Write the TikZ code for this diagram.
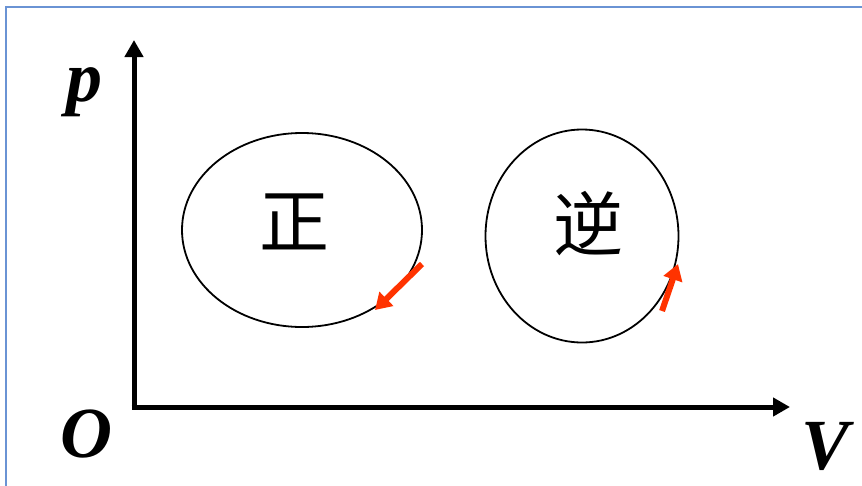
\documentclass[tikz,border=0pt]{standalone}
\usepackage{fontspec}
\setmainfont{Liberation Serif}
\newfontfamily\cjk{Noto Sans CJK SC}
\usetikzlibrary{arrows.meta,shapes.geometric}

\begin{document}
\begin{tikzpicture}[
    x=1pt, y=-1pt,
    axis/.style={line width=5pt, -{Triangle[length=17pt,width=18pt]}},
    cycle/.style={ellipse, draw, line width=1.8pt, inner sep=0pt},
    turn/.style={line width=6pt, draw=turncol, -{Triangle[length=16pt,width=19pt]}},
    varlabel/.style={font=\fontsize{72}{72}\selectfont\bfseries\itshape},
    cjklabel/.style={font=\cjk\fontsize{70}{70}\selectfont}
]
\definecolor{frame}{HTML}{6A93D4}
\definecolor{turncol}{HTML}{FF3300}
\useasboundingbox (0,0) rectangle (862,485);

% Frame
\draw[frame, line width=2.4pt] (6,490) -- (6,7) -- (870,7);

% Axes
\coordinate (o) at (134,407);
\coordinate (ptop) at (134,40);
\coordinate (vend) at (790,407);
\draw[axis] (134,409.5) -- (ptop);
\draw[axis] (131.5,407) -- (vend);

% Axis labels
\node[varlabel] (p) at (84,92) {p};
\node[varlabel] (origin) at (86,434) {O};
\node[varlabel] (v) at (826,446) {V};

% Cycles
\node[cycle, minimum width=240pt, minimum height=194pt] (fwd) at (302,230) {};
\node[cycle, minimum width=193pt, minimum height=213pt] (rev) at (582,236) {};
\node[cjklabel] (fwdtext) at (294,222) {正};
\node[cjklabel] (revtext) at (588,224) {逆};

% Direction arrows
\coordinate (a1) at (422,264);
\coordinate (b1) at (375,310);
\coordinate (a2) at (662,311);
\coordinate (b2) at (678,264);
\draw[turn] (a1) -- (b1);
\draw[turn] (a2) -- (b2);

\end{tikzpicture}
\end{document}
